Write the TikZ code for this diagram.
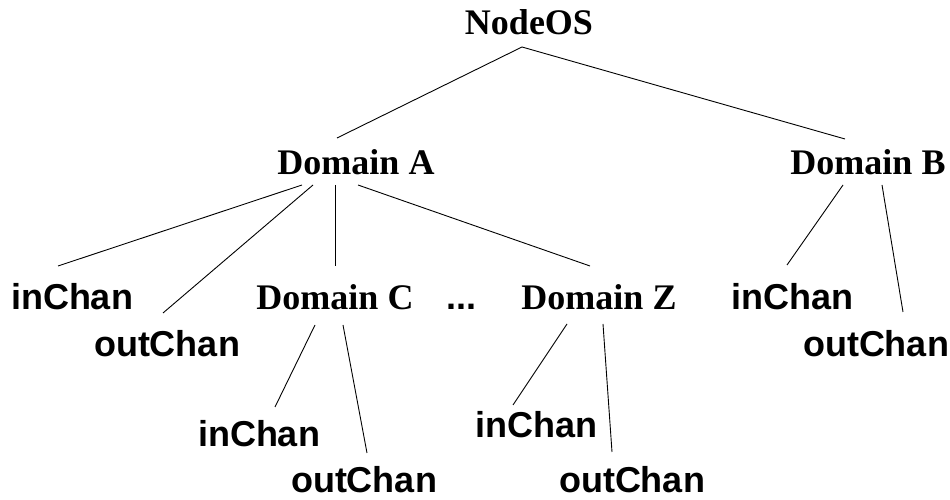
\documentclass[tikz,border=0pt]{standalone}
\usepackage{fontspec}
\usetikzlibrary{calc}
\newfontfamily\domfont{Liberation Serif}
\newfontfamily\chanfont{Liberation Sans}
\begin{document}
\begin{tikzpicture}[x=1pt,y=1pt,
  dom/.style={anchor=base,inner sep=0pt,font=\domfont\bfseries\fontsize{36}{40}\selectfont},
  chan/.style={anchor=base,inner sep=0pt,font=\chanfont\bfseries\fontsize{36}{40}\selectfont},
  edge/.style={line width=0.9pt}]
\useasboundingbox (0,0) rectangle (950,500);
% tree nodes, placed at their baselines
\node[dom]  (root) at (529,465) {NodeOS};
\node[dom]  (A)    at (356,325) {Domain A};
\node[dom]  (B)    at (868,325) {Domain B};
\node[chan] (inL)  at (72,190)  {inChan};
\node[chan] (outL) at (167,143) {outChan};
\node[dom]  (C)    at (335,190) {Domain C};
\node[chan] (dots) at (461,190) {...};
\node[dom]  (Z)    at (599,190) {Domain Z};
\node[chan] (inR)  at (792,190) {inChan};
\node[chan] (outR) at (876,143) {outChan};
\node[chan] (inC)  at (259,53)  {inChan};
\node[chan] (outC) at (364,7)   {outChan};
\node[chan] (inZ)  at (536,62)  {inChan};
\node[chan] (outZ) at (632,7)   {outChan};
% branches
\draw[edge] ($(root.base)+(-7,-12)$) -- ($(A.base)+(-19,37)$);
\draw[edge] ($(root.base)+(-7,-12)$) -- ($(B.base)+(-23,36)$);
\draw[edge] ($(A.base)+(-54,-10)$) -- ($(inL.base)+(-14,44)$);
\draw[edge] ($(A.base)+(-43,-10)$) -- ($(outL.base)+(-4,44)$);
\draw[edge] ($(A.base)+(-21,-10)$) -- ($(C.base)+(0,44)$);
\draw[edge] ($(A.base)+(2,-10)$)   -- ($(Z.base)+(-9,44)$);
\draw[edge] ($(B.base)+(-25,-10)$) -- ($(inR.base)+(-5,45)$);
\draw[edge] ($(B.base)+(14,-10)$)  -- ($(outR.base)+(27,45)$);
\draw[edge] ($(C.base)+(-20,-15)$) -- ($(inC.base)+(16,40)$);
\draw[edge] ($(C.base)+(8,-15)$)   -- ($(outC.base)+(3,40)$);
\draw[edge] ($(Z.base)+(-32,-14)$) -- ($(inZ.base)+(-23,33)$);
\draw[edge] ($(Z.base)+(4,-14)$)   -- ($(outZ.base)+(-20,41)$);
\end{tikzpicture}
\end{document}
